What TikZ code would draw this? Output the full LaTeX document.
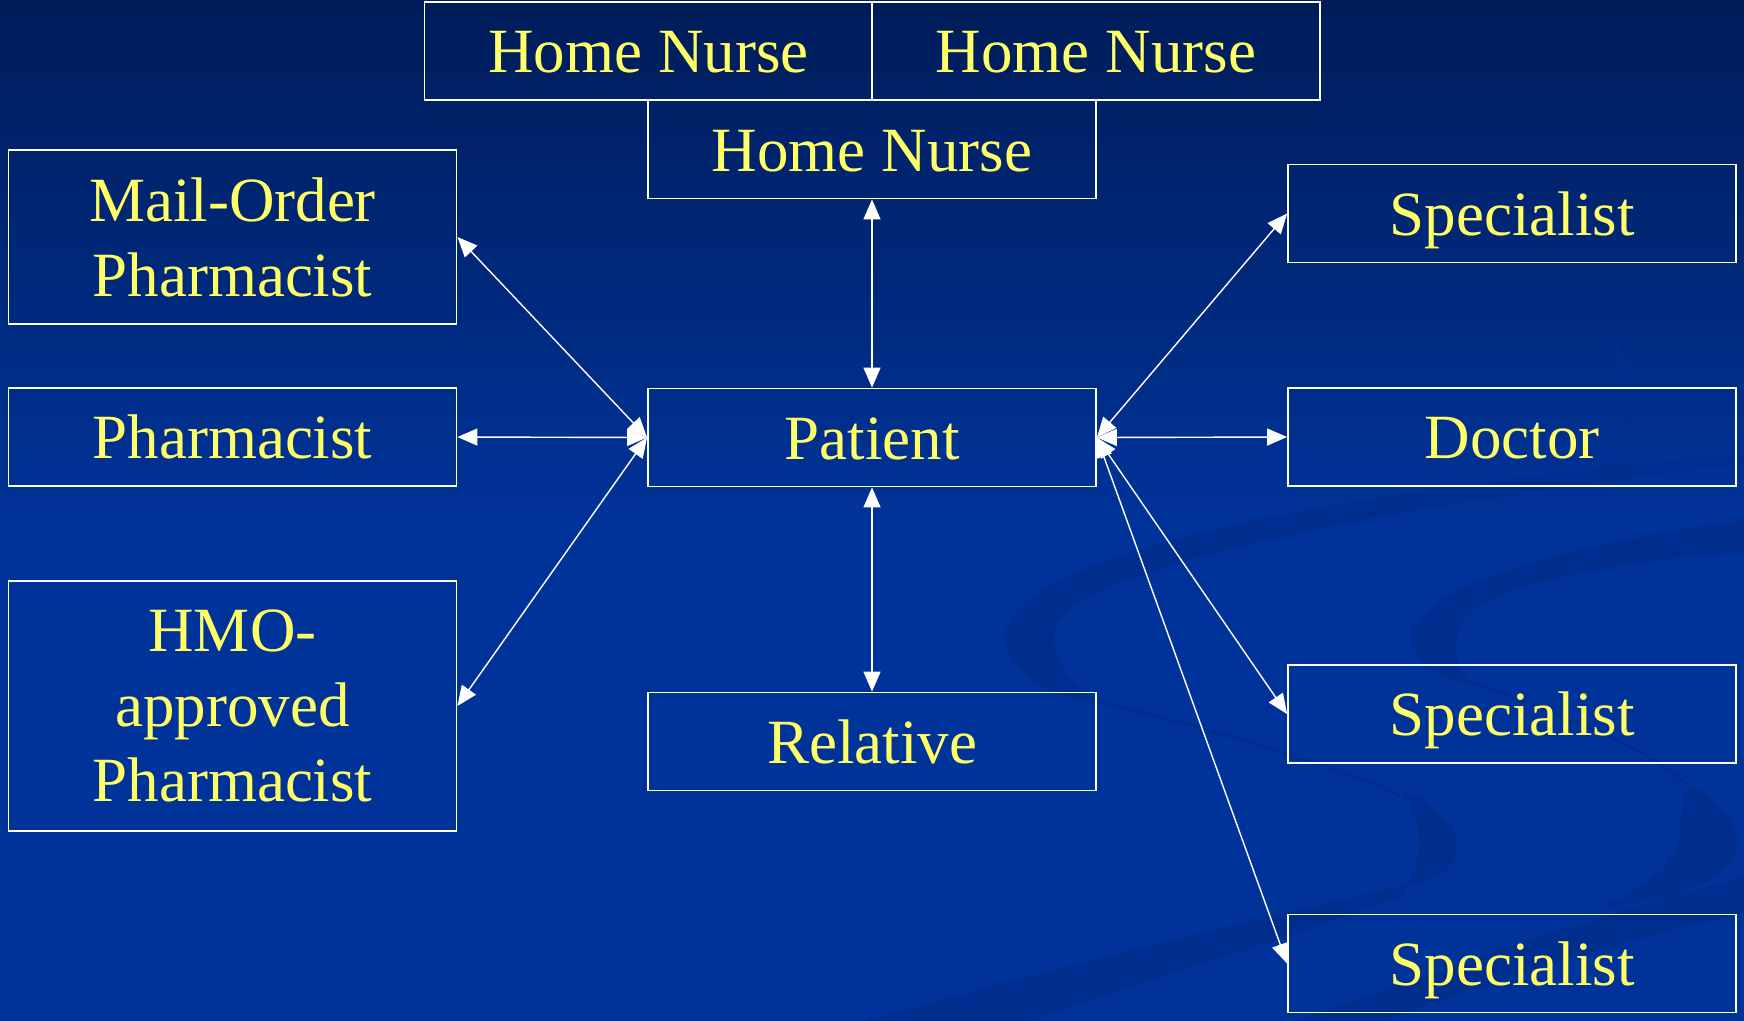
\documentclass[tikz,border=0pt]{standalone}
\usepackage{fontspec}
\setmainfont{Liberation Serif}
\usetikzlibrary{arrows.meta}
\definecolor{bgtop}{RGB}{0,28,88}
\definecolor{bgbot}{RGB}{0,51,153}
\definecolor{swirl}{RGB}{0,46,142}
\definecolor{txt}{RGB}{255,255,102}
\tikzset{
  box/.style={draw=white, line width=1.8pt, rectangle, inner sep=0pt,
    minimum width=448pt, minimum height=98pt, text=txt, align=center,
    font=\fontsize{63}{75}\selectfont},
  one/.style={box, text height=43pt, text depth=0pt},
  link/.style={draw=white, line width=1.4pt,
    {Triangle[length=20pt,width=17pt]}-{Triangle[length=20pt,width=17pt]}},
  band/.style={fill=swirl, draw=none},
  thinband/.style={draw=swirl, line width=3pt, line cap=round}
}
\begin{document}
\begin{tikzpicture}[x=1pt,y=-1pt]
\useasboundingbox (0,0) rectangle (1744,1020);
\fill[bgbot] (-10,-10) rectangle (1754,1030);
\shade[top color=bgtop, bottom color=bgbot] (-10,-10) rectangle (1754,520);
% background swirls
\begin{scope}
\clip (-10,-10) rectangle (1754,1040);
% left S, upper crescent
\path[band] (1760,452) .. controls (1300,492) and (1000,560) .. (1005,640)
  .. controls (1010,680) and (1060,700) .. (1110,705)
  .. controls (1075,688) and (1050,665) .. (1055,630)
  .. controls (1065,580) and (1300,515) .. (1760,462) -- cycle;
\draw[thinband] (1105,703) .. controls (1250,740) and (1390,780) .. (1430,815);
% left S, lower crescent
\path[band] (1400,788) .. controls (1460,815) and (1478,860) .. (1430,880)
  .. controls (1300,908) and (1000,980) .. (800,1040)
  -- (975,1040) .. controls (1100,995) and (1300,935) .. (1400,897)
  .. controls (1425,870) and (1425,815) .. (1400,788) -- cycle;
% right S, upper crescent
\path[band] (1760,518) .. controls (1550,545) and (1410,590) .. (1412,640)
  .. controls (1414,665) and (1440,678) .. (1472,684)
  .. controls (1455,668) and (1452,642) .. (1462,622)
  .. controls (1490,582) and (1620,562) .. (1760,550) -- cycle;
\draw[thinband] (1470,682) .. controls (1580,720) and (1690,765) .. (1705,810);
% right S, lower crescent
\path[band] (1690,785) .. controls (1735,808) and (1752,845) .. (1722,872)
  .. controls (1695,893) and (1645,903) .. (1600,908)
  .. controls (1645,888) and (1682,862) .. (1680,830)
  .. controls (1679,812) and (1686,798) .. (1690,785) -- cycle;
% bottom right band
\path[band] (1760,872) .. controls (1550,928) and (1400,985) .. (1240,1040)
  -- (1330,1040) .. controls (1480,985) and (1620,938) .. (1760,910) -- cycle;
% faint arc near doctor
\path[band] (1598,322) .. controls (1628,350) and (1640,385) .. (1626,420)
  .. controls (1630,385) and (1622,352) .. (1598,322) -- cycle;
\end{scope}
% nodes
\node[one] (hn1) at (648.5,51) {Home Nurse};
\node[one] (hn2) at (1096,51) {Home Nurse};
\node[one] (hn3) at (872,149.5) {Home Nurse};
\node[box, minimum height=174pt] (mail) at (232.5,237) {Mail-Order\\Pharmacist};
\node[one] (pharm) at (232.5,437) {Pharmacist};
\node[box, minimum height=250pt] (hmo) at (232.5,706) {HMO-\\approved\\Pharmacist};
\node[one] (patient) at (872,437.5) {Patient};
\node[one] (relative) at (872,741.5) {Relative};
\node[one] (spec1) at (1512,213.5) {Specialist};
\node[one] (doctor) at (1512,437) {Doctor};
\node[one] (spec2) at (1512,714) {Specialist};
\node[one] (spec3) at (1512,963.5) {Specialist};
% connectors
\draw[link] (hn3.south) -- (patient.north);
\draw[link] (patient.south) -- (relative.north);
\draw[link] (mail.east) -- (patient.west);
\draw[link] (pharm.east) -- (patient.west);
\draw[link] (hmo.east) -- (patient.west);
\draw[link] (patient.east) -- (spec1.west);
\draw[link] (patient.east) -- (doctor.west);
\draw[link] (patient.east) -- (spec2.west);
\draw[link] (patient.east) -- (spec3.west);
\end{tikzpicture}
\end{document}
